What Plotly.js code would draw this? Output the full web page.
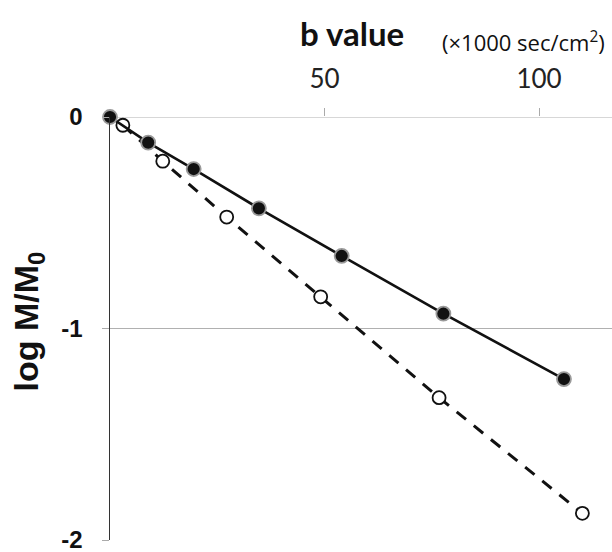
<!DOCTYPE html>
<html><head><meta charset="utf-8">
<script src="https://cdn.plot.ly/plotly-3.0.1.min.js"></script>
<style>body{margin:0;background:#fff}#chart{width:612px;height:552px}</style>
</head><body><div id="chart"></div>
<script>
const bFilled = [0, 8.9, 19.5, 34.7, 54.0, 77.7, 105.8];
const logFilled = [0, -0.121, -0.246, -0.432, -0.657, -0.930, -1.239];
const bOpen = [3.0, 12.3, 27.2, 49.1, 76.7, 110.1];
const logOpen = [-0.039, -0.209, -0.473, -0.850, -1.327, -1.874];
const xTicks = [50, 100];
const yTicks = [0, -1, -2];

const traces = [
  {x: bOpen, y: logOpen, mode: 'lines+markers', cliponaxis: false,
   line: {color: '#111', width: 3, dash: '12px,10px'},
   marker: {symbol: 'circle', size: 13, color: '#fff', line: {color: '#111', width: 1.8}}},
  {x: bFilled, y: logFilled, mode: 'lines+markers', cliponaxis: false,
   line: {color: '#111', width: 2.6},
   marker: {symbol: 'circle', size: 14, color: '#111', line: {color: '#999', width: 1.8}}}
];

const layout = {
  width: 612, height: 552, showlegend: false,
  paper_bgcolor: '#fff', plot_bgcolor: '#fff',
  margin: {l: 110, r: 0, t: 117, b: 12},
  xaxis: {side: 'top', range: [0, 117], tickvals: xTicks, ticktext: xTicks.map(String),
    showgrid: false, zeroline: false, showline: false,
    ticks: 'outside', ticklen: 8, tickcolor: '#aaa', tickwidth: 1, ticklabelstandoff: 10,
    tickfont: {family: 'Lato, "Open Sans", sans-serif', size: 26, color: '#222'}},
  yaxis: {range: [-2, 0], tickvals: yTicks, ticktext: yTicks.map(v => '<b>' + v + '</b>'),
    showgrid: true, gridcolor: '#b0b0b0', gridwidth: 1.2, zeroline: false,
    showline: true, linecolor: '#333', linewidth: 1.5,
    ticks: 'outside', ticklen: 7, tickcolor: '#aaa', tickwidth: 1, ticklabelstandoff: 14,
    ticklabeloverflow: 'allow',
    tickfont: {family: '"Liberation Sans", Arial, sans-serif', size: 24, color: '#111', weight: 'bold'}},
  shapes: [
    {type: 'line', xref: 'paper', yref: 'y', x0: 0, x1: 1, y0: 0, y1: 0, line: {color: '#b0b0b0', width: 1.2}, layer: 'below'}
  ],
  annotations: [
    {text: '<b>b value</b>', xref: 'paper', yref: 'paper', x: 0.482, y: 1.0, yshift: 84, showarrow: false,
     xanchor: 'center', yanchor: 'middle', font: {family: 'Lato, "Open Sans", sans-serif', size: 33, color: '#111'}},
    {text: '(×1000 sec/cm<sup>2</sup>)', xref: 'paper', yref: 'paper', x: 1.0, y: 1.0, yshift: 76, xshift: -5, showarrow: false,
     xanchor: 'right', yanchor: 'middle', font: {family: '"Open Sans", "Liberation Sans", sans-serif', size: 22, color: '#111'}},
    {text: '<b>log M/M<sub>0</sub></b>', xref: 'paper', yref: 'paper', x: 0, y: 0.5, xshift: -82, yshift: 7, textangle: -90,
     showarrow: false, xanchor: 'center', yanchor: 'middle',
     font: {family: '"Liberation Sans", Arial, sans-serif', size: 34, color: '#111'}}
  ]
};
Plotly.newPlot('chart', traces, layout, {displayModeBar: false, staticPlot: true});
</script></body></html>
